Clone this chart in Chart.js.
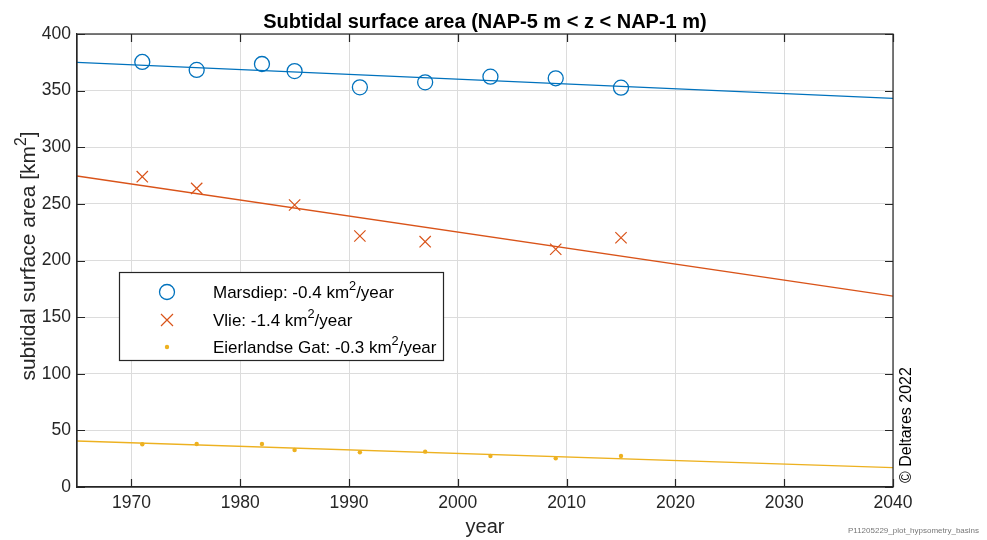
<!DOCTYPE html>
<html><head><meta charset="utf-8">
<script src="https://cdn.jsdelivr.net/npm/chart.js@4/dist/chart.umd.min.js"></script>
<style>html,body{margin:0;padding:0;background:#fff;}#wrap{width:987px;height:540px;position:relative;}</style>
</head><body><div id="wrap"><canvas id="c" width="987" height="540"></canvas></div>
<script>
const titleText = 'Subtidal surface area (NAP-5 m < z < NAP-1 m)';
const xTitle = 'year';
const yTitle = 'subtidal surface area [km^2]';
const copyright = '\u00A9 Deltares 2022';
const fileTag = 'P11205229_plot_hypsometry_basins';

const years = [1971, 1976, 1982, 1985, 1991, 1997, 2003, 2009, 2015];
const marsdiep = [375.3, 368.3, 373.5, 367.3, 352.9, 357.3, 362.3, 360.9, 352.6];
const vlieYears = [1971, 1976, 1985, 1991, 1997, 2009, 2015];
const vlie = [274.0, 263.7, 249.0, 221.6, 216.6, 209.9, 220.1];
const eierland = [37.7, 38.0, 38.0, 32.7, 30.6, 31.2, 27.4, 25.3, 27.4];

const trendYears = [1965, 2040];
const marsdiepTrend = [375.0, 343.2];
const vlieTrend = [274.6, 168.6];
const eierlandTrend = [40.6, 17.1];

const xTicks = [1970, 1980, 1990, 2000, 2010, 2020, 2030, 2040];
const yTicks = [0, 50, 100, 150, 200, 250, 300, 350, 400];
const legendLabels = ['Marsdiep: -0.4 km^2/year', 'Vlie: -1.4 km^2/year', 'Eierlandse Gat: -0.3 km^2/year'];

const C_BLUE = '#0072BD', C_ORANGE = '#D95319', C_YELLOW = '#EDB120';
const FONT = '"Liberation Sans", Arial, Helvetica, sans-serif';
const AX = '#262626';

const pts = (xs, ys) => xs.map((x, i) => ({x: x, y: ys[i]}));

function drawSup(ctx, str, x, y, size, align) {
  const parts = str.split('^2');
  const supSize = size * 0.75;
  let total = 0;
  const widths = [];
  for (let i = 0; i < parts.length; i++) {
    ctx.font = size + 'px ' + FONT;
    widths.push(ctx.measureText(parts[i]).width);
    total += widths[i];
    if (i < parts.length - 1) { ctx.font = supSize + 'px ' + FONT; total += ctx.measureText('2').width; }
  }
  let cx = align === 'center' ? x - total / 2 : x;
  ctx.textAlign = 'left';
  ctx.textBaseline = 'alphabetic';
  for (let i = 0; i < parts.length; i++) {
    ctx.font = size + 'px ' + FONT;
    ctx.fillText(parts[i], cx, y);
    cx += widths[i];
    if (i < parts.length - 1) {
      ctx.font = supSize + 'px ' + FONT;
      ctx.fillText('2', cx, y - size * 0.45);
      cx += ctx.measureText('2').width;
    }
  }
}

const decor = {
  id: 'decor',
  afterDraw(chart) {
    const ctx = chart.ctx, a = chart.chartArea;
    const xs = chart.scales.x, ys = chart.scales.y;
    ctx.save();
    ctx.strokeStyle = AX; ctx.lineWidth = 1.2;
    ctx.strokeRect(a.left, a.top, a.right - a.left, a.bottom - a.top);
    const tl = 8;
    ctx.beginPath();
    xTicks.forEach(v => {
      const px = Math.round(xs.getPixelForValue(v)) + 0.5;
      ctx.moveTo(px, a.bottom); ctx.lineTo(px, a.bottom - tl);
      ctx.moveTo(px, a.top); ctx.lineTo(px, a.top + tl);
    });
    yTicks.forEach(v => {
      const py = Math.round(ys.getPixelForValue(v)) + 0.5;
      ctx.moveTo(a.left, py); ctx.lineTo(a.left + tl, py);
      ctx.moveTo(a.right, py); ctx.lineTo(a.right - tl, py);
    });
    ctx.stroke();

    ctx.fillStyle = '#000';
    ctx.font = 'bold 20px ' + FONT;
    ctx.textAlign = 'center'; ctx.textBaseline = 'alphabetic';
    ctx.fillText(titleText, (a.left + a.right) / 2, 28);

    ctx.fillStyle = AX;
    ctx.font = '20px ' + FONT;
    ctx.fillText(xTitle, (a.left + a.right) / 2, 533);

    ctx.save();
    ctx.translate(35, 256);
    ctx.rotate(-Math.PI / 2);
    drawSup(ctx, yTitle, 0, 0, 21, 'center');
    ctx.restore();

    ctx.save();
    ctx.fillStyle = '#000';
    ctx.translate(911, a.bottom - 4);
    ctx.rotate(-Math.PI / 2);
    ctx.font = '16px ' + FONT;
    ctx.textAlign = 'left';
    ctx.fillText(copyright, 0, 0);
    ctx.restore();

    ctx.fillStyle = '#777';
    ctx.font = '8px ' + FONT;
    ctx.textAlign = 'right';
    ctx.fillText(fileTag, 979, 533);

    const lx = 119.5, ly = 272.5, lw = 324, lh = 88;
    ctx.fillStyle = '#fff';
    ctx.fillRect(lx, ly, lw, lh);
    ctx.strokeStyle = '#262626'; ctx.lineWidth = 1.2;
    ctx.strokeRect(lx, ly, lw, lh);
    const rows = [292, 320, 347];
    const mx = 167;
    ctx.strokeStyle = C_BLUE; ctx.lineWidth = 1.3;
    ctx.beginPath(); ctx.arc(mx, rows[0], 7.5, 0, Math.PI * 2); ctx.stroke();
    ctx.strokeStyle = C_ORANGE; ctx.lineWidth = 1.2;
    ctx.beginPath();
    ctx.moveTo(mx - 6, rows[1] - 6); ctx.lineTo(mx + 6, rows[1] + 6);
    ctx.moveTo(mx + 6, rows[1] - 6); ctx.lineTo(mx - 6, rows[1] + 6);
    ctx.stroke();
    ctx.fillStyle = C_YELLOW;
    ctx.beginPath(); ctx.arc(mx, rows[2], 2.2, 0, Math.PI * 2); ctx.fill();
    ctx.fillStyle = '#000';
    legendLabels.forEach((t, i) => drawSup(ctx, t, 213, rows[i] + 6, 17, 'left'));
    ctx.restore();
  }
};

new Chart(document.getElementById('c'), {
  type: 'scatter',
  data: {
    datasets: [
      {label: 'Marsdiep trend', data: pts(trendYears, marsdiepTrend), showLine: true, borderColor: C_BLUE, borderWidth: 1.3, pointRadius: 0, fill: false},
      {label: 'Vlie trend', data: pts(trendYears, vlieTrend), showLine: true, borderColor: C_ORANGE, borderWidth: 1.3, pointRadius: 0, fill: false},
      {label: 'Eierlandse Gat trend', data: pts(trendYears, eierlandTrend), showLine: true, borderColor: C_YELLOW, borderWidth: 1.3, pointRadius: 0, fill: false},
      {label: 'Marsdiep', data: pts(years, marsdiep), pointStyle: 'circle', pointRadius: 7.5, borderColor: C_BLUE, backgroundColor: 'rgba(0,0,0,0)', borderWidth: 1.3},
      {label: 'Vlie', data: pts(vlieYears, vlie), pointStyle: 'crossRot', pointRadius: 8, borderColor: C_ORANGE, backgroundColor: C_ORANGE, borderWidth: 1.2},
      {label: 'Eierlandse Gat', data: pts(years, eierland), pointStyle: 'circle', pointRadius: 2.2, borderColor: C_YELLOW, backgroundColor: C_YELLOW, borderWidth: 0}
    ]
  },
  options: {
    responsive: false,
    animation: false,
    devicePixelRatio: 1,
    layout: {padding: {left: 0, top: 34, right: 94, bottom: 0}},
    plugins: {legend: {display: false}, tooltip: {enabled: false}, title: {display: false}},
    scales: {
      x: {
        type: 'linear', min: 1965, max: 2040,
        afterFit(s) { s.height = 53; },
        afterBuildTicks(s) { s.ticks = xTicks.map(v => ({value: v})); },
        ticks: {callback: v => String(v), color: AX, font: {family: FONT, size: 17.5}, padding: 6, maxRotation: 0, autoSkip: false},
        grid: {color: '#dcdcdc', lineWidth: 1, drawTicks: false},
        border: {color: AX, width: 1.2}
      },
      y: {
        type: 'linear', min: 0, max: 400,
        afterFit(s) { s.width = 77; },
        afterBuildTicks(s) { s.ticks = yTicks.map(v => ({value: v})); },
        ticks: {callback: v => String(v), color: AX, font: {family: FONT, size: 17.5}, padding: 6, autoSkip: false},
        grid: {color: '#dcdcdc', lineWidth: 1, drawTicks: false},
        border: {color: AX, width: 1.2}
      }
    }
  },
  plugins: [decor]
});
</script>
</body></html>
